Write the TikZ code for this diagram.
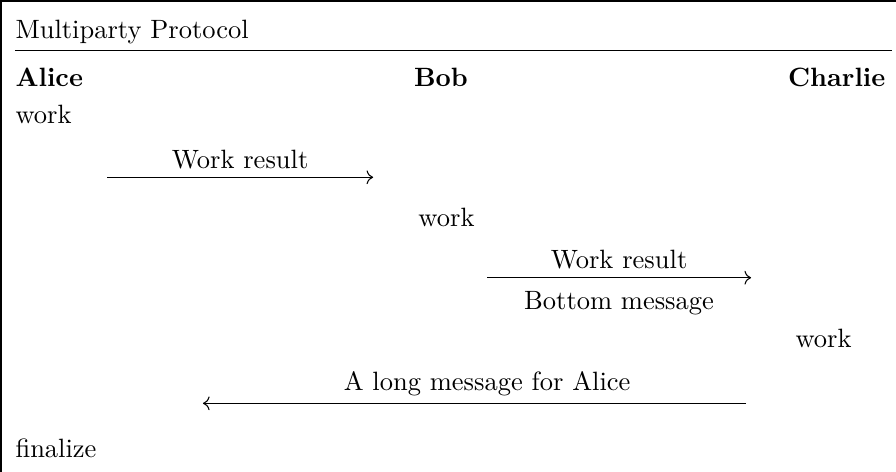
\documentclass[tikz,border=0pt]{standalone}
\usetikzlibrary{arrows.meta}
\begin{document}
\begin{tikzpicture}[x=1pt,y=1pt,
  lbl/.style={inner sep=0pt,anchor=base},
  lblw/.style={inner sep=0pt,anchor=base west},
  party/.style={inner sep=0pt,font=\bfseries},
  msg/.style={->,line width=0.4pt}]
\useasboundingbox (0,0) rectangle (338.1,-178.1);
% frame
\draw[line width=0.8pt] (0.4,-178.1) coordinate (fb) -- (0.4,-0.4) coordinate (fc) -- (338.1,-0.4) coordinate (fr);
\node[lblw] (title) at (5.66,-14.72) {Multiparty Protocol};
\draw[line width=0.4pt] (5.66,-19.1) coordinate (sl) -- (336.6,-19.1) coordinate (sr);
% parties
\node[party,anchor=base west] (alice) at (5.66,-32.83) {Alice};
\node[party,anchor=base] (bob) at (166.4,-32.83) {Bob};
\node[party,anchor=base east] (charlie) at (334.3,-32.83) {Charlie};
% steps
\node[lblw] (w1) at (5.66,-46.5) {work};
\coordinate (a1s) at (40.4,-66.9);
\coordinate (a1e) at (140.8,-66.9);
\draw[msg] (a1s) -- (a1e);
\node[lbl] (l1) at (90.6,-63.4) {Work result};
\node[lblw] (w2) at (157.7,-85.66) {work};
\coordinate (a2s) at (183.8,-104.8);
\coordinate (a2e) at (283.4,-104.8);
\draw[msg] (a2s) -- (a2e);
\node[lbl] (l2) at (233.6,-101.3) {Work result};
\node[lbl] (l2b) at (233.6,-116.8) {Bottom message};
\node[lblw] (w3) at (300,-131.3) {work};
\coordinate (a3s) at (281.5,-152.2);
\coordinate (a3e) at (76.6,-152.2);
\draw[msg] (a3s) -- (a3e);
\node[lbl] (l3) at (183.8,-147.5) {A long message for Alice};
\node[lblw] (fin) at (5.66,-172.8) {finalize};
\end{tikzpicture}
\end{document}
